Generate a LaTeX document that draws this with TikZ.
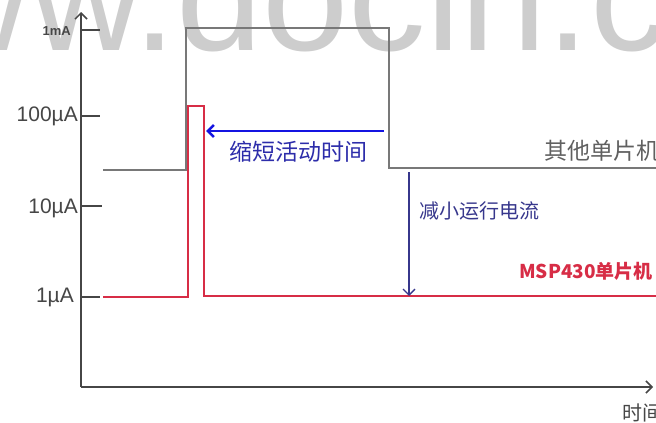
\documentclass[tikz,border=0pt]{standalone}
\usepackage{fontspec}
\setmainfont{Liberation Sans}
\newfontfamily\cjk{Noto Sans CJK SC}
\usetikzlibrary{arrows.meta}
\definecolor{axisgray}{RGB}{70,70,70}
\definecolor{othergray}{RGB}{120,120,120}
\definecolor{mspred}{RGB}{215,45,70}
\definecolor{shortblue}{RGB}{20,20,225}
\definecolor{textblue}{RGB}{45,45,170}
\definecolor{runnavy}{RGB}{55,55,140}
\definecolor{markgray}{RGB}{205,205,205}
\tikzset{
  ticklbl/.style={anchor=east, inner sep=0pt, text=axisgray, font=\fontsize{21}{21}\selectfont},
  tickline/.style={axisgray, line width=1.3},
  cjklbl/.style={inner sep=0pt, font=\cjk\fontsize{20}{20}\selectfont},
  barb/.style={-{Straight Barb[length=6pt,width=12pt]}}
}
\begin{document}
\begin{tikzpicture}[x=1pt,y=1pt,yscale=-1,xscale=1]
\useasboundingbox (0,0) rectangle (656,423);
\clip (0,0) rectangle (656,423);

% Watermark
\node (mark) [anchor=base west, inner sep=0pt, text=markgray, font=\fontsize{155}{155}\selectfont] at (-194,50) {www.docin.com};

% Axes
\coordinate (O) at (81,387);
\coordinate (ytop) at (81,12);
\coordinate (xend) at (653,387);
\draw [axisgray, line width=1.5, barb] (O) -- (ytop);
\draw [axisgray, line width=1.5, barb] (O) -- (xend);

% Text Node
\node (lbl1m) [ticklbl, font=\bfseries\fontsize{13}{13}\selectfont] at (71,31) {1mA};
\node (lbl100u) [ticklbl] at (78,116) {100µA};
\node (lbl10u) [ticklbl] at (78,208) {10µA};
\node (lbl1u) [ticklbl] at (74,297) {1µA};
% Ticks
\draw [tickline] (81,30) -- (100,30);
\draw [tickline, line width=2.6] (81,116) -- (100,116);
\draw [tickline] (81,206) -- (102,206);
\draw [tickline] (81,297) -- (100,297);

% Other MCU current
\draw [othergray, line width=1.5] (103,170) -- (186,170) -- (186,28) -- (389,28) -- (389,168) -- (656,168);
% MSP430 current
\draw [mspred, line width=2] (103,297) -- (188,297) -- (188,106) -- (204,106) -- (204,296) -- (656,296);

% Connection
\coordinate (shortS) at (384,131);
\coordinate (shortE) at (206,131);
\draw [shortblue, line width=2.6, barb] (shortS) -- (shortE);
\node (shorttxt) [cjklbl, text=textblue, font=\cjk\fontsize{23}{23}\selectfont] at (298,152) {缩短活动时间};
% Connection
\coordinate (runS) at (409,172);
\coordinate (runE) at (409,296);
\draw [runnavy, line width=1.3, barb] (runS) -- (runE);
\node (runtxt) [cjklbl, anchor=west, text=runnavy] at (419,211) {减小运行电流};

% Text Node
\node (othertxt) [cjklbl, anchor=west, text=othergray!80!black, font=\cjk\fontsize{23}{23}\selectfont] at (544,151) {其他单片机};
\node (msptxt) [cjklbl, anchor=west, text=mspred, font=\cjk\bfseries\fontsize{19}{19}\selectfont] at (519,271) {MSP430单片机};
\node (timetxt) [cjklbl, anchor=west, text=axisgray] at (622,413) {时间};

\end{tikzpicture}
\end{document}
